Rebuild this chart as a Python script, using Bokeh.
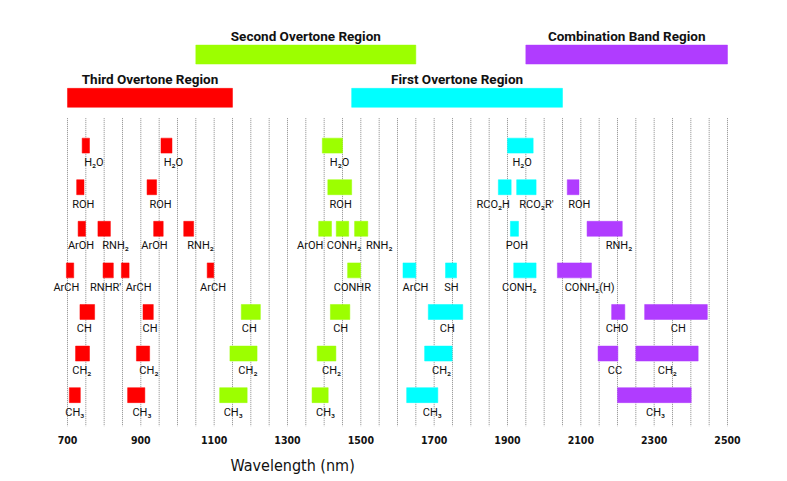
from bokeh.plotting import figure
from bokeh.models import Range1d, FixedTicker, ColumnDataSource, Title
from bokeh.core.properties import value
from bokeh.embed import file_html
from bokeh.resources import INLINE
import numpy as np

# ---------------- data ----------------
region_names = ["Third Overtone Region", "Second Overtone Region",
                "First Overtone Region", "Combination Band Region"]
region_start = [700, 1050, 1475, 1950]
region_end = [1150, 1650, 2050, 2500]
region_tier = [1, 2, 1, 2]
region_color = ["#FF0000", "#9CFF00", "#00FFFF", "#B03CFF"]

# band region index: 0 third, 1 second, 2 first, 3 combination
band_region = [0, 0, 1, 2,
               0, 0, 1, 2, 2, 3,
               0, 0, 0, 0, 1, 1, 1, 2, 3,
               0, 0, 0, 0, 1, 2, 2, 2, 3,
               0, 0, 1, 1, 2, 3, 3,
               0, 0, 1, 1, 2, 3, 3,
               0, 0, 1, 1, 2, 3]
band_row = [0, 0, 0, 0,
            1, 1, 1, 1, 1, 1,
            2, 2, 2, 2, 2, 2, 2, 2, 2,
            3, 3, 3, 3, 3, 3, 3, 3, 3,
            4, 4, 4, 4, 4, 4, 4,
            5, 5, 5, 5, 5, 5, 5,
            6, 6, 6, 6, 6, 6]
band_start = [740, 955, 1395, 1900,
              725, 917, 1410, 1875, 1925, 2063,
              729, 783, 935, 1017, 1385, 1433, 1483, 1908, 2117,
              697, 797, 847, 1081, 1464, 1615, 1731, 1917, 2036,
              734, 906, 1174, 1417, 1684, 2184, 2274,
              722, 888, 1143, 1381, 1674, 2147, 2250,
              705, 864, 1115, 1367, 1625, 2200]
band_end = [760, 985, 1450, 1970,
            745, 943, 1475, 1910, 1978, 2095,
            749, 817, 961, 1044, 1420, 1467, 1519, 1930, 2213,
            717, 825, 868, 1099, 1499, 1650, 1761, 1978, 2129,
            774, 934, 1226, 1470, 1778, 2220, 2445,
            760, 924, 1217, 1432, 1749, 2201, 2420,
            735, 911, 1190, 1411, 1710, 2401]
band_label = ["H₂O", "H₂O", "H₂O", "H₂O",
              "ROH", "ROH", "ROH", "RCO₂H", "RCO₂R′", "ROH",
              "ArOH", "RNH₂", "ArOH", "RNH₂", "ArOH", "CONH₂", "RNH₂", "POH", "RNH₂",
              "ArCH", "RNHR′", "ArCH", "ArCH", "CONHR", "ArCH", "SH", "CONH₂", "CONH₂(H)",
              "CH", "CH", "CH", "CH", "CH", "CHO", "CH",
              "CH₂", "CH₂", "CH₂", "CH₂", "CH₂", "CC", "CH₂",
              "CH₃", "CH₃", "CH₃", "CH₃", "CH₃", "CH₃"]
band_label_nm = [772, 989, 1442, 1940,
                 743, 954, 1445, 1861, 1979, 2096,
                 737, 831, 937, 1063, 1362, 1454, 1550, 1926, 2204,
                 697, 804, 894, 1097, 1477, 1649, 1747, 1932, 2124,
                 746, 925, 1196, 1445, 1736, 2199, 2366,
                 739, 922, 1192, 1420, 1720, 2193, 2336,
                 720, 903, 1152, 1404, 1695, 2304]

tick_values = [700, 900, 1100, 1300, 1500, 1700, 1900, 2100, 2300, 2500]
grid_step = 50

# ---------------- layout helpers ----------------
ROW_H = 0.36          # band bar height in row units
REGION_H = 0.455
TIER_Y = {1: -1.15, 2: -2.19}
GRID_TOP = -0.66
Y_BOTTOM, Y_TOP = 6.754, -3.49

W, H = 771, 481
p = figure(width=W, height=H, output_backend="svg", toolbar_location=None,
           x_range=Range1d(517.3, 2620.0), y_range=Range1d(Y_BOTTOM, Y_TOP),
           min_border_left=0, min_border_right=0, min_border_top=0,
           min_border_bottom=53)
p.outline_line_color = None
p.background_fill_color = "white"
p.border_fill_color = "white"
p.yaxis.visible = False
p.xgrid.visible = False
p.ygrid.visible = False

# gridlines (dotted)
gx = np.arange(tick_values[0], tick_values[-1] + 1, grid_step)
p.segment(x0=gx, x1=gx, y0=[GRID_TOP] * len(gx), y1=[Y_BOTTOM] * len(gx),
          line_color="#8a8a8a", line_width=1, line_dash="1 1")

# region bars
rsrc = ColumnDataSource(dict(
    left=region_start, right=region_end,
    top=[TIER_Y[t] - REGION_H / 2 for t in region_tier],
    bottom=[TIER_Y[t] + REGION_H / 2 for t in region_tier],
    xc=[(a + b) / 2 for a, b in zip(region_start, region_end)],
    color=region_color, name=region_names))
p.quad(left="left", right="right", top="top", bottom="bottom",
       fill_color="color", line_color="color", line_alpha=0.5, source=rsrc)
p.text(x="xc", y="top", text="name", source=rsrc, text_align="center",
       text_baseline="bottom", y_offset=-1,
       text_font=value("Roboto"), text_font_style="bold",
       text_font_size="13.5px", text_color="#111111")

# bands
bsrc = ColumnDataSource(dict(
    left=band_start, right=band_end,
    top=[r - ROW_H / 2 for r in band_row],
    bottom=[r + ROW_H / 2 for r in band_row],
    y=band_row, lx=band_label_nm, label=band_label,
    color=[region_color[i] for i in band_region]))
p.quad(left="left", right="right", top="top", bottom="bottom",
       fill_color="color", line_color="color", line_alpha=0.5, source=bsrc)
p.text(x="lx", y="y", text="label", source=bsrc, text_align="center",
       text_baseline="middle", y_offset=17,
       text_font=value("Roboto"), text_font_size="11px", text_color="#111111")

# axis
ax = p.xaxis[0]
ax.ticker = FixedTicker(ticks=tick_values)
ax.axis_line_color = None
ax.major_tick_line_color = None
ax.minor_tick_line_color = None
ax.major_tick_out = 0
ax.major_tick_in = 0
ax.major_label_standoff = 9
ax.major_label_text_font = "DejaVu Sans Condensed"
ax.major_label_text_font_style = "bold"
ax.major_label_text_font_size = "10.5px"
ax.major_label_text_color = "#111111"

p.add_layout(Title(text="Wavelength  (nm)", align="left", offset=230,
                   text_font="DejaVu Sans Condensed", text_font_size="16px",
                   text_font_style="normal", text_color="#111111",
                   standoff=14), "below")

open("out.html", "w").write(file_html(p, INLINE))
